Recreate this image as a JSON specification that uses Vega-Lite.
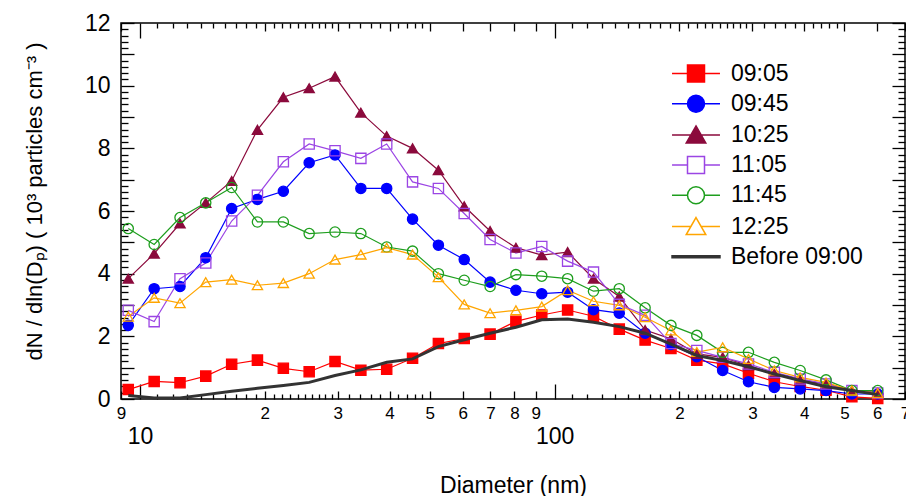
{
  "$schema": "https://vega.github.io/schema/vega-lite/v6.json",
  "width": 784,
  "height": 376,
  "autosize": {"type": "none"},
  "padding": {"left": 121, "top": 23, "right": 1, "bottom": 97},
  "background": "white",
  "config": {
    "view": {"stroke": "#000000", "strokeWidth": 1.5},
    "font": "Liberation Sans",
    "axis": {"labelColor": "#000000", "titleColor": "#000000", "tickColor": "#000000", "grid": false, "domain": false, "titleFontWeight": "normal", "labelFont": "Liberation Sans", "titleFont": "Liberation Sans", "tickWidth": 1.3}
  },
  "datasets": {
    "psd": [
      {"series":"09:05","d":9.37,"v":0.30},{"series":"09:05","d":10.82,"v":0.56},{"series":"09:05","d":12.49,"v":0.52},{"series":"09:05","d":14.41,"v":0.73},{"series":"09:05","d":16.64,"v":1.11},{"series":"09:05","d":19.2,"v":1.24},{"series":"09:05","d":22.17,"v":0.98},{"series":"09:05","d":25.59,"v":0.87},{"series":"09:05","d":29.54,"v":1.20},{"series":"09:05","d":34.1,"v":0.92},{"series":"09:05","d":39.36,"v":0.95},{"series":"09:05","d":45.44,"v":1.30},{"series":"09:05","d":52.45,"v":1.77},{"series":"09:05","d":60.54,"v":1.93},{"series":"09:05","d":69.89,"v":2.07},{"series":"09:05","d":80.67,"v":2.48},{"series":"09:05","d":93.12,"v":2.68},{"series":"09:05","d":107.5,"v":2.84},{"series":"09:05","d":124.1,"v":2.64},{"series":"09:05","d":143.2,"v":2.23},{"series":"09:05","d":165.3,"v":1.88},{"series":"09:05","d":190.8,"v":1.61},{"series":"09:05","d":220.3,"v":1.24},{"series":"09:05","d":254.3,"v":1.12},{"series":"09:05","d":293.5,"v":0.82},{"series":"09:05","d":338.8,"v":0.55},{"series":"09:05","d":391.1,"v":0.40},{"series":"09:05","d":451.5,"v":0.28},{"series":"09:05","d":521.2,"v":0.07},{"series":"09:05","d":601.6,"v":0.02},
      {"series":"09:45","d":9.37,"v":2.35},{"series":"09:45","d":10.82,"v":3.52},{"series":"09:45","d":12.49,"v":3.59},{"series":"09:45","d":14.41,"v":4.51},{"series":"09:45","d":16.64,"v":6.08},{"series":"09:45","d":19.2,"v":6.37},{"series":"09:45","d":22.17,"v":6.63},{"series":"09:45","d":25.59,"v":7.54},{"series":"09:45","d":29.54,"v":7.79},{"series":"09:45","d":34.1,"v":6.72},{"series":"09:45","d":39.36,"v":6.72},{"series":"09:45","d":45.44,"v":5.74},{"series":"09:45","d":52.45,"v":4.91},{"series":"09:45","d":60.54,"v":4.45},{"series":"09:45","d":69.89,"v":3.73},{"series":"09:45","d":80.67,"v":3.47},{"series":"09:45","d":93.12,"v":3.36},{"series":"09:45","d":107.5,"v":3.41},{"series":"09:45","d":124.1,"v":2.85},{"series":"09:45","d":143.2,"v":2.74},{"series":"09:45","d":165.3,"v":2.10},{"series":"09:45","d":190.8,"v":1.74},{"series":"09:45","d":220.3,"v":1.35},{"series":"09:45","d":254.3,"v":0.91},{"series":"09:45","d":293.5,"v":0.55},{"series":"09:45","d":338.8,"v":0.37},{"series":"09:45","d":391.1,"v":0.32},{"series":"09:45","d":451.5,"v":0.27},{"series":"09:45","d":521.2,"v":0.16},{"series":"09:45","d":601.6,"v":0.16},
      {"series":"10:25","d":9.37,"v":3.84},{"series":"10:25","d":10.82,"v":4.64},{"series":"10:25","d":12.49,"v":5.60},{"series":"10:25","d":14.41,"v":6.26},{"series":"10:25","d":16.64,"v":6.96},{"series":"10:25","d":19.2,"v":8.59},{"series":"10:25","d":22.17,"v":9.63},{"series":"10:25","d":25.59,"v":9.92},{"series":"10:25","d":29.54,"v":10.29},{"series":"10:25","d":34.1,"v":9.14},{"series":"10:25","d":39.36,"v":8.39},{"series":"10:25","d":45.44,"v":8.00},{"series":"10:25","d":52.45,"v":7.30},{"series":"10:25","d":60.54,"v":6.15},{"series":"10:25","d":69.89,"v":5.36},{"series":"10:25","d":80.67,"v":4.83},{"series":"10:25","d":93.12,"v":4.59},{"series":"10:25","d":107.5,"v":4.69},{"series":"10:25","d":124.1,"v":3.84},{"series":"10:25","d":143.2,"v":3.27},{"series":"10:25","d":165.3,"v":2.20},{"series":"10:25","d":190.8,"v":1.92},{"series":"10:25","d":220.3,"v":1.44},{"series":"10:25","d":254.3,"v":1.33},{"series":"10:25","d":293.5,"v":1.07},{"series":"10:25","d":338.8,"v":0.80},{"series":"10:25","d":391.1,"v":0.59},{"series":"10:25","d":451.5,"v":0.48},{"series":"10:25","d":521.2,"v":0.27},{"series":"10:25","d":601.6,"v":0.21},
      {"series":"11:05","d":9.37,"v":2.83},{"series":"11:05","d":10.82,"v":2.47},{"series":"11:05","d":12.49,"v":3.84},{"series":"11:05","d":14.41,"v":4.34},{"series":"11:05","d":16.64,"v":5.68},{"series":"11:05","d":19.2,"v":6.50},{"series":"11:05","d":22.17,"v":7.57},{"series":"11:05","d":25.59,"v":8.14},{"series":"11:05","d":29.54,"v":7.92},{"series":"11:05","d":34.1,"v":7.68},{"series":"11:05","d":39.36,"v":8.14},{"series":"11:05","d":45.44,"v":6.93},{"series":"11:05","d":52.45,"v":6.72},{"series":"11:05","d":60.54,"v":5.92},{"series":"11:05","d":69.89,"v":5.09},{"series":"11:05","d":80.67,"v":4.66},{"series":"11:05","d":93.12,"v":4.87},{"series":"11:05","d":107.5,"v":4.40},{"series":"11:05","d":124.1,"v":4.05},{"series":"11:05","d":143.2,"v":3.02},{"series":"11:05","d":165.3,"v":2.67},{"series":"11:05","d":190.8,"v":1.77},{"series":"11:05","d":220.3,"v":1.55},{"series":"11:05","d":254.3,"v":1.33},{"series":"11:05","d":293.5,"v":1.12},{"series":"11:05","d":338.8,"v":0.85},{"series":"11:05","d":391.1,"v":0.64},{"series":"11:05","d":451.5,"v":0.48},{"series":"11:05","d":521.2,"v":0.27},{"series":"11:05","d":601.6,"v":0.19},
      {"series":"11:45","d":9.37,"v":5.44},{"series":"11:45","d":10.82,"v":4.93},{"series":"11:45","d":12.49,"v":5.79},{"series":"11:45","d":14.41,"v":6.26},{"series":"11:45","d":16.64,"v":6.75},{"series":"11:45","d":19.2,"v":5.65},{"series":"11:45","d":22.17,"v":5.65},{"series":"11:45","d":25.59,"v":5.28},{"series":"11:45","d":29.54,"v":5.33},{"series":"11:45","d":34.1,"v":5.28},{"series":"11:45","d":39.36,"v":4.85},{"series":"11:45","d":45.44,"v":4.72},{"series":"11:45","d":52.45,"v":4.00},{"series":"11:45","d":60.54,"v":3.79},{"series":"11:45","d":69.89,"v":3.59},{"series":"11:45","d":80.67,"v":3.97},{"series":"11:45","d":93.12,"v":3.92},{"series":"11:45","d":107.5,"v":3.84},{"series":"11:45","d":124.1,"v":3.44},{"series":"11:45","d":143.2,"v":3.52},{"series":"11:45","d":165.3,"v":2.91},{"series":"11:45","d":190.8,"v":2.35},{"series":"11:45","d":220.3,"v":2.03},{"series":"11:45","d":254.3,"v":1.49},{"series":"11:45","d":293.5,"v":1.49},{"series":"11:45","d":338.8,"v":1.17},{"series":"11:45","d":391.1,"v":0.91},{"series":"11:45","d":451.5,"v":0.61},{"series":"11:45","d":521.2,"v":0.27},{"series":"11:45","d":601.6,"v":0.27},
      {"series":"12:25","d":9.37,"v":2.63},{"series":"12:25","d":10.82,"v":3.23},{"series":"12:25","d":12.49,"v":3.06},{"series":"12:25","d":14.41,"v":3.73},{"series":"12:25","d":16.64,"v":3.81},{"series":"12:25","d":19.2,"v":3.63},{"series":"12:25","d":22.17,"v":3.70},{"series":"12:25","d":25.59,"v":4.00},{"series":"12:25","d":29.54,"v":4.45},{"series":"12:25","d":34.1,"v":4.61},{"series":"12:25","d":39.36,"v":4.83},{"series":"12:25","d":45.44,"v":4.61},{"series":"12:25","d":52.45,"v":3.89},{"series":"12:25","d":60.54,"v":3.02},{"series":"12:25","d":69.89,"v":2.74},{"series":"12:25","d":80.67,"v":2.83},{"series":"12:25","d":93.12,"v":2.95},{"series":"12:25","d":107.5,"v":3.47},{"series":"12:25","d":124.1,"v":3.12},{"series":"12:25","d":143.2,"v":2.99},{"series":"12:25","d":165.3,"v":2.61},{"series":"12:25","d":190.8,"v":2.19},{"series":"12:25","d":220.3,"v":1.50},{"series":"12:25","d":254.3,"v":1.65},{"series":"12:25","d":293.5,"v":1.28},{"series":"12:25","d":338.8,"v":0.91},{"series":"12:25","d":391.1,"v":0.69},{"series":"12:25","d":451.5,"v":0.53},{"series":"12:25","d":521.2,"v":0.27},{"series":"12:25","d":601.6,"v":0.19},
      {"series":"Before 09:00","d":9.37,"v":0.11},{"series":"Before 09:00","d":10.82,"v":0.03},{"series":"Before 09:00","d":12.49,"v":0.03},{"series":"Before 09:00","d":14.41,"v":0.14},{"series":"Before 09:00","d":16.64,"v":0.25},{"series":"Before 09:00","d":19.2,"v":0.34},{"series":"Before 09:00","d":22.17,"v":0.43},{"series":"Before 09:00","d":25.59,"v":0.53},{"series":"Before 09:00","d":29.54,"v":0.75},{"series":"Before 09:00","d":34.1,"v":0.93},{"series":"Before 09:00","d":39.36,"v":1.17},{"series":"Before 09:00","d":45.44,"v":1.28},{"series":"Before 09:00","d":52.45,"v":1.67},{"series":"Before 09:00","d":60.54,"v":1.89},{"series":"Before 09:00","d":69.89,"v":2.10},{"series":"Before 09:00","d":80.67,"v":2.29},{"series":"Before 09:00","d":93.12,"v":2.53},{"series":"Before 09:00","d":107.5,"v":2.55},{"series":"Before 09:00","d":124.1,"v":2.45},{"series":"Before 09:00","d":143.2,"v":2.31},{"series":"Before 09:00","d":165.3,"v":2.10},{"series":"Before 09:00","d":190.8,"v":1.75},{"series":"Before 09:00","d":220.3,"v":1.39},{"series":"Before 09:00","d":254.3,"v":1.23},{"series":"Before 09:00","d":293.5,"v":1.03},{"series":"Before 09:00","d":338.8,"v":0.80},{"series":"Before 09:00","d":391.1,"v":0.59},{"series":"Before 09:00","d":451.5,"v":0.39},{"series":"Before 09:00","d":521.2,"v":0.27},{"series":"Before 09:00","d":601.6,"v":0.14}
    ]
  },
  "data": {"name": "psd"},
  "layer": [
    {
      "transform": [{"filter": "datum.series != 'Before 09:00'"}],
      "mark": {"type": "line", "strokeWidth": 1.2},
      "encoding": {
        "x": {"field": "d", "type": "quantitative", "scale": {"type": "log", "domain": [9, 700], "nice": false},
          "axis": {"orient": "bottom", "values": [9,10,20,30,40,50,60,70,80,90,100,200,300,400,500,600,700], "ticks": false, "domain": false, "grid": false,
            "labelExpr": "(datum.value == 10 || datum.value == 100) ? datum.value + '' : (datum.value >= 100 ? datum.value / 100 : (datum.value >= 10 ? datum.value / 10 : datum.value)) + ''",
            "labelFontSize": {"condition": {"test": "datum.value == 10 || datum.value == 100", "value": 23}, "value": 17},
            "labelPadding": {"condition": {"test": "datum.value == 10 || datum.value == 100", "value": 26}, "value": 6},
            "labelBaseline": "top", "labelAlign": "center", "labelFlush": false, "labelOverlap": false, "labelBound": false,
            "title": "Diameter (nm)", "titleFontSize": 23, "titleX": 392, "titleY": 86, "titleBaseline": "middle", "titleAlign": "center", "titleAnchor": null}},
        "y": {"field": "v", "type": "quantitative", "scale": {"domain": [0, 12], "nice": false, "zero": true},
          "axis": {"orient": "left", "values": [0,2,4,6,8,10,12], "ticks": false, "domain": false, "grid": false, "labelFontSize": 23, "labelPadding": 11, "labelFlush": false, "labelOverlap": false, "labelBound": false, "labelBaseline": "middle",
            "title": "dN / dln(Dₚ)  ( 10³ particles cm⁻³ )", "titleFontSize": 22, "titleX": -87, "titleY": 178, "titleAngle": 270, "titleBaseline": "middle", "titleAlign": "center"}},
        "color": {"field": "series", "type": "nominal", "scale": {"domain": ["09:05","09:45","10:25","11:05","11:45","12:25"], "range": ["#ff0000","#0000ff","#8b0a3c","#9b45e4","#1e9e1e","#ffa500"]}, "legend": null}
      }
    },
    {
      "transform": [{"filter": "datum.series != 'Before 09:00'"}],
      "mark": {"type": "point", "filled": false, "strokeWidth": 1.3, "size": 105, "opacity": 1},
      "encoding": {
        "x": {"field": "d", "type": "quantitative", "scale": {"type": "log", "domain": [9, 700], "nice": false},
          "axis": {"orient": "top", "values": [11,12,13,14,15,16,17,18,19,21,22,23,24,25,26,27,28,29,32,34,36,38,42,44,46,48,110,120,130,140,150,160,170,180,190,210,220,230,240,250,260,270,280,290,320,340,360,380,420,440,460,480],
            "labels": false, "domain": false, "grid": false, "title": null, "ticks": true, "tickSize": -5}},
        "y": {"field": "v", "type": "quantitative", "scale": {"domain": [0, 12], "nice": false},
          "axis": {"orient": "right", "values": [0.2,0.4,0.6,0.8,1.2,1.4,1.6,1.8,2.2,2.4,2.6,2.8,3.2,3.4,3.6,3.8,4.2,4.4,4.6,4.8,5.2,5.4,5.6,5.8,6.2,6.4,6.6,6.8,7.2,7.4,7.6,7.8,8.2,8.4,8.6,8.8,9.2,9.4,9.6,9.8,10.2,10.4,10.6,10.8,11.2,11.4,11.6,11.8],
            "labels": false, "domain": false, "grid": false, "title": null, "ticks": true, "tickSize": -7}},
        "stroke": {"field": "series", "type": "nominal", "scale": {"domain": ["09:05","09:45","10:25","11:05","11:45","12:25"], "range": ["#ff0000","#0000ff","#8b0a3c","#9b45e4","#1e9e1e","#ffa500"]}, "legend": null},
        "fill": {"field": "series", "type": "nominal", "scale": {"domain": ["09:05","09:45","10:25","11:05","11:45","12:25"], "range": ["#ff0000","#0000ff","#8b0a3c","transparent","transparent","transparent"]}, "legend": null},
        "shape": {"field": "series", "type": "nominal", "scale": {"domain": ["09:05","09:45","10:25","11:05","11:45","12:25"], "range": ["square","circle","triangle-up","square","circle","triangle-up"]}, "legend": null}
      }
    },
    {
      "transform": [{"filter": "datum.series == 'Before 09:00'"}],
      "mark": {"type": "line", "color": "#333333", "strokeWidth": 3},
      "encoding": {
        "x": {"field": "d", "type": "quantitative", "scale": {"type": "log", "domain": [9, 700], "nice": false},
          "axis": {"orient": "bottom", "values": [11,12,13,14,15,16,17,18,19,21,22,23,24,25,26,27,28,29,32,34,36,38,42,44,46,48,110,120,130,140,150,160,170,180,190,210,220,230,240,250,260,270,280,290,320,340,360,380,420,440,460,480],
            "labels": false, "domain": false, "grid": false, "title": null, "ticks": true, "tickSize": -5}},
        "y": {"field": "v", "type": "quantitative", "scale": {"domain": [0, 12], "nice": false},
          "axis": {"orient": "left", "values": [0.2,0.4,0.6,0.8,1.2,1.4,1.6,1.8,2.2,2.4,2.6,2.8,3.2,3.4,3.6,3.8,4.2,4.4,4.6,4.8,5.2,5.4,5.6,5.8,6.2,6.4,6.6,6.8,7.2,7.4,7.6,7.8,8.2,8.4,8.6,8.8,9.2,9.4,9.6,9.8,10.2,10.4,10.6,10.8,11.2,11.4,11.6,11.8],
            "labels": false, "domain": false, "grid": false, "title": null, "ticks": true, "tickSize": -7}}
      }
    },
    {
      "transform": [{"filter": "datum.v < -100"}],
      "mark": {"type": "point", "filled": false, "opacity": 1},
      "encoding": {
        "x": {"field": "d", "type": "quantitative", "scale": {"type": "log", "domain": [9, 700], "nice": false},
          "axis": {"orient": "top", "values": [9,20,30,40,50,60,70,80,90,200,300,400,500,600,700], "labels": false, "domain": false, "grid": false, "title": null, "ticks": true, "tickSize": -8}},
        "y": {"field": "v", "type": "quantitative", "scale": {"domain": [0, 12], "nice": false},
          "axis": {"orient": "right", "values": [0,1,2,3,4,5,6,7,8,9,10,11,12], "labels": false, "domain": false, "grid": false, "title": null, "ticks": true, "tickSize": -13}},
        "stroke": {"field": "series", "type": "nominal",
          "scale": {"domain": ["09:05","09:45","10:25","11:05","11:45","12:25","Before 09:00"], "range": ["#ff0000","#0000ff","#8b0a3c","#9b45e4","#1e9e1e","#ffa500","#333333"]},
          "legend": {"title": null, "orient": "none", "legendX": 563.5, "legendY": 39, "symbolSize": 289, "symbolStrokeWidth": 1.5, "labelFontSize": 23, "labelFont": "Liberation Sans", "labelColor": "#000000", "labelOffset": 23.5, "rowPadding": 6.2, "padding": 0, "labelLimit": 300, "symbolOpacity": 1}},
        "fill": {"field": "series", "type": "nominal",
          "scale": {"domain": ["09:05","09:45","10:25","11:05","11:45","12:25","Before 09:00"], "range": ["#ff0000","#0000ff","#8b0a3c","transparent","transparent","transparent","#333333"]},
          "legend": {"title": null, "orient": "none", "legendX": 563.5, "legendY": 39, "symbolSize": 289, "symbolStrokeWidth": 1.5, "labelFontSize": 23, "labelFont": "Liberation Sans", "labelColor": "#000000", "labelOffset": 23.5, "rowPadding": 6.2, "padding": 0, "labelLimit": 300, "symbolOpacity": 1}},
        "shape": {"field": "series", "type": "nominal",
          "scale": {"domain": ["09:05","09:45","10:25","11:05","11:45","12:25","Before 09:00"], "range": [
            "M-1,-1H1V1H-1Z M-2.82,0H-1 M1,0H2.82",
            "M-1,0A1,1,0,1,1,1,0A1,1,0,1,1,-1,0Z M-2.82,0H-1 M1,0H2.82",
            "M0,-1.05L1.15,0.95H-1.15Z M-2.82,0H-0.6 M0.6,0H2.82",
            "M-1,-1H1V1H-1Z M-2.82,0H-1 M1,0H2.82",
            "M-1,0A1,1,0,1,1,1,0A1,1,0,1,1,-1,0Z M-2.82,0H-1 M1,0H2.82",
            "M0,-1.05L1.15,0.95H-1.15Z M-2.82,0H-0.6 M0.6,0H2.82",
            "M-2.82,-0.12H2.82V0.12H-2.82Z"]},
          "legend": {"title": null, "orient": "none", "legendX": 563.5, "legendY": 39, "symbolSize": 289, "symbolStrokeWidth": 1.5, "labelFontSize": 23, "labelFont": "Liberation Sans", "labelColor": "#000000", "labelOffset": 23.5, "rowPadding": 6.2, "padding": 0, "labelLimit": 300, "symbolOpacity": 1}}
      }
    },
    {
      "transform": [{"filter": "datum.v < -100"}],
      "mark": {"type": "point", "opacity": 0},
      "encoding": {
        "x": {"field": "d", "type": "quantitative", "scale": {"type": "log", "domain": [9, 700], "nice": false},
          "axis": {"orient": "bottom", "values": [9,20,30,40,50,60,70,80,90,200,300,400,500,600,700], "labels": false, "domain": false, "grid": false, "title": null, "ticks": true, "tickSize": -8}},
        "y": {"field": "v", "type": "quantitative", "scale": {"domain": [0, 12], "nice": false},
          "axis": {"orient": "left", "values": [0,1,2,3,4,5,6,7,8,9,10,11,12], "labels": false, "domain": false, "grid": false, "title": null, "ticks": true, "tickSize": -13}}
      }
    },
    {
      "transform": [{"filter": "datum.v < -100"}],
      "mark": {"type": "point", "opacity": 0},
      "encoding": {
        "x": {"field": "d", "type": "quantitative", "scale": {"type": "log", "domain": [9, 700], "nice": false},
          "axis": {"orient": "top", "values": [10,100], "labels": false, "domain": false, "grid": false, "title": null, "ticks": true, "tickSize": -15}},
        "y": {"field": "v", "type": "quantitative", "scale": {"domain": [0, 12], "nice": false}, "axis": null}
      }
    },
    {
      "transform": [{"filter": "datum.v < -100"}],
      "mark": {"type": "point", "opacity": 0},
      "encoding": {
        "x": {"field": "d", "type": "quantitative", "scale": {"type": "log", "domain": [9, 700], "nice": false},
          "axis": {"orient": "bottom", "values": [10,100], "labels": false, "domain": false, "grid": false, "title": null, "ticks": true, "tickSize": -15}},
        "y": {"field": "v", "type": "quantitative", "scale": {"domain": [0, 12], "nice": false}, "axis": null}
      }
    }
  ],
  "resolve": {
    "scale": {"color": "independent", "stroke": "independent", "fill": "independent", "shape": "independent"},
    "axis": {"x": "independent", "y": "independent"}
  }
}
